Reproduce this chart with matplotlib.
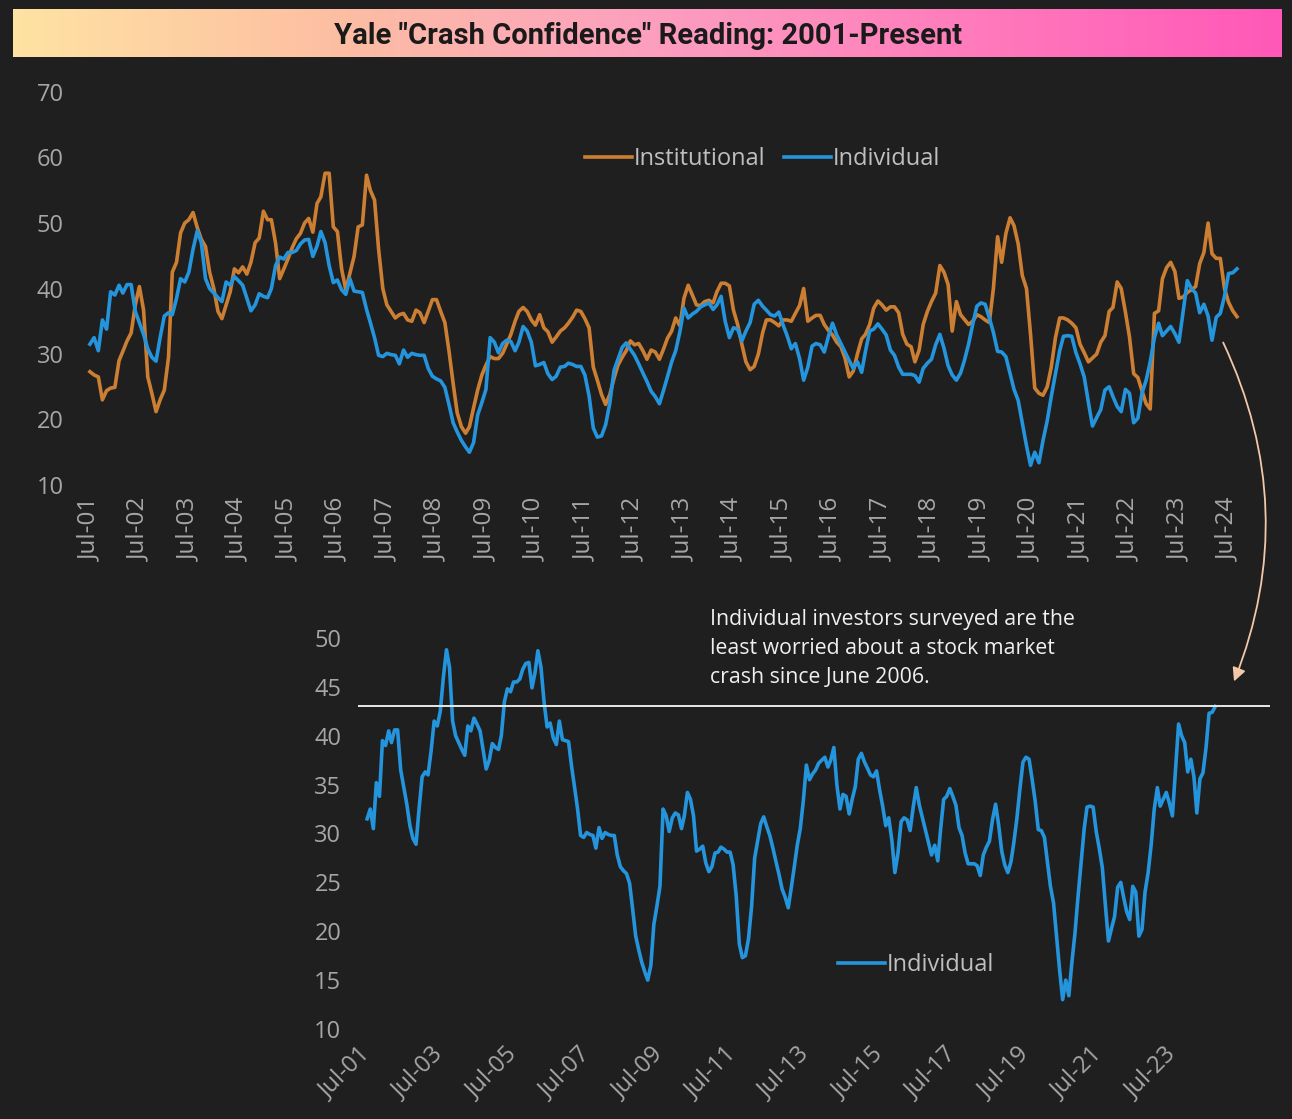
import numpy as np
import pandas as pd
import matplotlib
matplotlib.use("Agg")
import matplotlib.pyplot as plt
import matplotlib.dates as mdates
from matplotlib.colors import LinearSegmentedColormap
from matplotlib.patches import FancyArrowPatch

# Yale crash confidence index, monthly from Jul-2001
institutional = [
    27.3, 26.8, 26.5, 23.0, 24.4, 24.8, 24.9, 29.0, 30.4, 32.0, 33.2, 37.5,
    40.3, 36.7, 26.5, 24.0, 21.2, 23.0, 24.5, 29.5, 42.5, 44.0, 48.5, 50.0,
    50.5, 51.6, 49.3, 47.5, 46.4, 42.5, 40.0, 36.5, 35.4, 37.5, 39.5, 43.0,
    42.4, 43.3, 42.2, 44.0, 47.0, 47.7, 51.8, 50.5, 50.5, 46.9, 41.5, 43.0,
    44.5, 46.2, 47.6, 48.4, 50.0, 50.7, 48.6, 53.0, 54.0, 57.6, 57.6, 49.4,
    48.7, 43.0, 39.8, 42.3, 44.9, 49.4, 49.7, 57.3, 55.0, 53.5, 46.0, 40.0,
    37.5, 36.5, 35.5, 36.0, 36.2, 35.2, 35.0, 36.7, 36.3, 34.8, 36.5, 38.3,
    38.3, 36.5, 34.8, 30.5, 25.5, 21.0, 18.9, 17.9, 18.9, 21.8, 24.5, 26.8,
    28.3, 29.6, 29.3, 29.3, 30.1, 31.5, 33.0, 35.0, 36.5, 37.1, 36.5, 35.2,
    34.4, 36.0, 34.0, 33.4, 31.8, 32.6, 33.5, 34.0, 34.7, 35.6, 36.7, 36.5,
    35.4, 34.0, 28.0, 26.0, 23.8, 22.3, 23.8, 26.3, 28.3, 29.5, 30.5, 32.0,
    31.4, 31.6, 30.5, 29.2, 30.6, 30.3, 29.2, 30.8, 32.4, 33.5, 35.5, 34.3,
    38.5, 40.5, 39.0, 37.5, 37.4, 38.0, 38.2, 37.8, 39.5, 40.8, 40.8, 40.4,
    36.7, 34.5, 31.5, 28.8, 27.6, 28.1, 30.0, 33.2, 35.2, 35.2, 34.8, 34.3,
    35.2, 35.2, 35.0, 36.2, 37.4, 40.0, 35.0, 35.5, 35.9, 35.9, 34.5, 33.6,
    32.9, 31.8, 31.1, 29.4, 26.5, 27.4, 30.0, 32.3, 33.0, 34.5, 37.0, 38.1,
    37.5, 36.7, 37.2, 37.2, 36.3, 33.0, 31.5, 31.1, 28.8, 30.6, 34.5, 36.5,
    38.0, 39.3, 43.5, 42.5, 40.6, 33.5, 38.0, 36.0, 35.3, 34.5, 35.0, 36.0,
    35.7, 35.2, 34.8, 40.0, 47.9, 44.0, 48.4, 50.8, 49.6, 46.8, 42.0, 40.0,
    33.0, 24.8, 24.0, 23.7, 25.0, 28.0, 32.5, 35.5, 35.5, 35.2, 34.7, 34.0,
    31.5, 30.2, 28.8, 29.4, 30.0, 31.8, 32.8, 36.5, 37.1, 41.0, 40.0, 36.4,
    32.6, 27.0, 26.4, 24.4, 22.4, 21.6, 36.2, 36.6, 41.5, 43.2, 44.0, 42.6,
    38.5, 38.7, 39.4, 39.8, 40.3, 43.8, 45.5, 50.0, 45.3, 44.6, 44.6, 40.0,
    37.9, 36.6, 35.7,
]

individual = [
    31.5, 32.5, 30.5, 35.2, 33.8, 39.5, 39.0, 40.5, 39.3, 40.6, 40.6, 36.5,
    34.8, 33.0, 30.8, 29.5, 28.9, 32.5, 35.8, 36.3, 36.0, 38.5, 41.5, 41.0,
    42.5, 46.0, 48.8, 47.0, 41.5, 40.0, 39.3, 38.6, 38.0, 41.0, 40.5, 41.8,
    41.2, 40.5, 38.5, 36.6, 37.5, 39.2, 38.8, 38.6, 40.0, 43.5, 44.8, 44.5,
    45.5, 45.5, 45.8, 46.8, 47.4, 47.5, 44.9, 46.5, 48.7, 47.0, 43.5, 40.9,
    41.3, 39.8, 39.1, 41.5, 39.6, 39.5, 39.4, 36.8, 34.8, 32.5, 29.8, 29.6,
    30.1, 29.9, 29.8, 28.5, 30.6, 29.5, 30.1, 29.9, 29.8, 29.8, 27.8, 26.6,
    26.2, 25.9, 24.9, 22.3, 19.5, 18.1, 16.8, 15.8, 15.0, 16.5, 20.7, 22.6,
    24.6, 32.5, 31.8, 30.2, 31.6, 32.1, 31.9, 30.5, 31.8, 34.2, 33.5, 31.8,
    28.2, 28.4, 28.7, 27.0, 26.1, 26.6, 28.0, 28.1, 28.6, 28.4, 28.1, 28.1,
    26.8, 23.6, 18.7, 17.3, 17.5, 19.2, 22.5, 27.5, 29.2, 31.0, 31.7, 30.7,
    29.8, 28.5, 27.1, 25.8, 24.3, 23.5, 22.4, 24.5, 26.5, 28.8, 30.5, 33.4,
    37.0, 35.5, 36.1, 36.5, 37.2, 37.5, 37.8, 36.8, 37.5, 38.8, 35.0, 32.5,
    34.0, 33.8, 32.0, 33.5, 34.8, 37.6, 38.2, 37.3, 36.7, 36.0, 35.8, 36.4,
    34.5, 32.8, 30.8, 31.6, 29.3, 26.0, 28.0, 31.2, 31.6, 31.4, 30.3, 32.7,
    34.7, 32.9, 31.6, 30.3, 29.0, 27.8, 28.8, 27.2, 30.4, 33.5, 33.8, 34.6,
    33.8, 32.9, 30.6, 29.8, 28.0, 26.9, 26.9, 26.9, 26.7, 25.7, 27.8, 28.6,
    29.2, 31.4, 33.0, 30.9, 28.2, 26.8, 26.0, 27.1, 29.0, 31.5, 34.5, 37.3,
    37.8, 37.6, 35.5, 33.3, 30.4, 30.3, 29.6, 27.0, 24.6, 22.9, 19.5, 16.0,
    13.0, 15.0, 13.4, 16.8, 19.8, 23.5, 27.0, 30.5, 32.7, 32.8, 32.7, 30.2,
    28.5, 26.5, 22.6, 19.0, 20.3, 21.5, 24.5, 25.0, 23.5, 22.0, 21.2, 24.6,
    24.0, 19.5, 20.2, 24.0, 26.0, 28.8, 32.5, 34.7, 32.8, 33.5, 34.2, 33.1,
    31.8, 36.5, 41.2, 40.0, 39.3, 36.3, 37.6, 35.8, 32.1, 35.6, 36.2, 38.8,
    42.3, 42.4, 43.0,
]

title = 'Yale "Crash Confidence" Reading: 2001-Present'
note = ("Individual investors surveyed are the\n"
        "least worried about a stock market\n"
        "crash since June 2006.")
ref_level = 43.0

BG = "#1f1f1f"
ORANGE = "#cc7f32"
BLUE = "#2494dc"
TICK = "#a6a6a6"
FONT = ["Open Sans", "DejaVu Sans"]
plt.rcParams["font.family"] = FONT

d_inst = pd.date_range("2001-07-01", periods=len(institutional), freq="MS")
d_ind = pd.date_range("2001-07-01", periods=len(individual), freq="MS")

W, H = 1292, 1119
fig = plt.figure(figsize=(W / 100, H / 100), dpi=100, facecolor=BG)


def frac(x0, y0, x1, y1):
    # pixel box (top-left origin) -> figure fraction rect
    return [x0 / W, 1 - y1 / H, (x1 - x0) / W, (y1 - y0) / H]


# title bar with gradient
tax = fig.add_axes(frac(13, 9, 1282, 57))
cmap = LinearSegmentedColormap.from_list(
    "bar", ["#ffe3a3", "#fdbfa2", "#fc9fbf", "#ff7cbc", "#ff58b8"])
tax.imshow(np.linspace(0, 1, 256)[None, :], aspect="auto", cmap=cmap,
           extent=[0, 1, 0, 1])
tax.set_axis_off()
tax.text(0.5, 0.43, title, ha="center", va="center", fontsize=21,
         fontweight="bold", color="#1a1a1a", family=["Roboto", "DejaVu Sans"])

# top chart: both series
ax = fig.add_axes(frac(75, 92, 1260, 485))
ax.set_facecolor(BG)
ax.plot(d_inst, institutional, color=ORANGE, lw=2.6, label="Institutional")
ax.plot(d_ind, individual, color=BLUE, lw=2.6, label="Individual")
ax.set_ylim(10, 70)
ax.set_yticks(np.arange(10, 71, 10))
ax.set_xlim(pd.Timestamp("2001-03-13"), pd.Timestamp("2025-02-18"))
jul = d_ind[d_ind.month == 7]
ax.set_xticks(jul)
ax.xaxis.set_major_formatter(mdates.DateFormatter("%b-%y"))
ax.tick_params(axis="x", rotation=90, length=0, colors=TICK, labelsize=17.5, pad=9)
ax.tick_params(axis="y", length=0, colors=TICK, labelsize=17, pad=8)
for s in ax.spines.values():
    s.set_visible(False)
leg = ax.legend(loc="center", bbox_to_anchor=(0.58, 0.83), ncol=2,
                frameon=False, fontsize=17, handlelength=2.0,
                handletextpad=0.05, columnspacing=0.8)
for t in leg.get_texts():
    t.set_color("#bfbfbf")

# bottom chart: individual only
bx = fig.add_axes(frac(358, 638, 1270, 1029))
bx.set_facecolor(BG)
bx.plot(d_ind, individual, color=BLUE, lw=2.6, label="Individual")
bx.axhline(ref_level, color="#e8e8e8", lw=1.4)
bx.set_ylim(10, 50)
bx.set_yticks(np.arange(10, 51, 5))
bx.set_xlim(pd.Timestamp("2001-04-01"), pd.Timestamp("2026-03-01"))
bx.set_xticks(jul[::2])
bx.xaxis.set_major_formatter(mdates.DateFormatter("%b-%y"))
bx.tick_params(axis="x", length=0, colors=TICK, labelsize=17, pad=16)
for lab in bx.get_xticklabels():
    lab.set_rotation(45)
    lab.set_ha("right")
    lab.set_va("center")
    lab.set_rotation_mode("anchor")
bx.tick_params(axis="y", length=0, colors=TICK, labelsize=17, pad=12)
for s in bx.spines.values():
    s.set_visible(False)
leg2 = bx.legend(loc="center", bbox_to_anchor=(0.612, 0.163), frameon=False,
                 fontsize=17, handlelength=2.0, handletextpad=0.05)
for t in leg2.get_texts():
    t.set_color("#bfbfbf")

fig.text(710 / W, 1 - 609 / H, note, ha="left", va="top", fontsize=15.3,
         color="#f0f0f0", linespacing=1.5)

arrow = FancyArrowPatch((1222 / W, 1 - 340 / H), (1233 / W, 1 - 684 / H),
                        transform=fig.transFigure,
                        connectionstyle="arc3,rad=-0.22",
                        arrowstyle="-|>", mutation_scale=20,
                        color="#f2c8a8", lw=1.3)
fig.patches.append(arrow)

fig.savefig("out.png", dpi=100, facecolor=BG)
